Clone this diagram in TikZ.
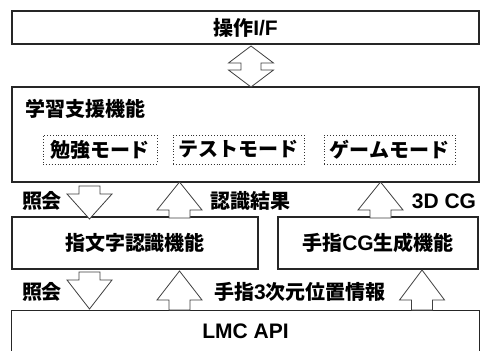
\documentclass[tikz,border=0pt]{standalone}
\usepackage{fontspec}
\setmainfont{Liberation Sans}
\newfontfamily\jpf{Noto Sans CJK JP}
\newcommand{\jp}[1]{{\jpf\fontsize{20}{24}\selectfont #1}}
\newcommand{\blkarr}[4]{\draw[barrow] (#1,#2) -- ({#1+22.5},#3) -- ({#1+10.5},#3) -- ({#1+10.5},#4) -- ({#1-10.5},#4) -- ({#1-10.5},#3) -- ({#1-22.5},#3) -- cycle;}
\tikzset{
  box/.style={draw=black!85, line width=1.3pt, inner sep=0pt, font=\bfseries\fontsize{21}{24}\selectfont},
  boxline/.style={draw=black!85, line width=1.3pt},
  modebox/.style={draw=black!80, dotted, line width=0.9pt, inner sep=0pt, minimum height=29pt, font=\bfseries\fontsize{21}{24}\selectfont},
  barrow/.style={draw=black!75, line width=0.8pt, fill=white, line join=miter},
  lbl/.style={inner sep=0pt, font=\bfseries\fontsize{21}{24}\selectfont}
}
\begin{document}
\begin{tikzpicture}[x=1pt,y=-1pt]
\useasboundingbox (0,0) rectangle (480,351);
\clip (0,0) rectangle (480,351);
\fill[white] (0,0) rectangle (480,351);
% boxes
\node[box, minimum width=467pt, minimum height=33pt] (opif) at (245.5,27.5) {\jp{操作}I/F};
\node[box, minimum width=467pt, minimum height=95pt] (gakushu) at (245.5,134.5) {};
\node[lbl, anchor=west] (gakushulbl) at (25,109) {\jp{学習支援機能}};
\node[modebox, minimum width=114pt] (benkyo) at (100,149.5) {\jp{勉強モード}};
\node[modebox, minimum width=131pt] (test) at (238.5,149.5) {\jp{テストモード}};
\node[modebox, minimum width=131pt] (game) at (389.5,149.5) {\jp{ゲームモード}};
\node[box, minimum width=246pt, minimum height=52pt] (shimoji) at (135,243) {\jp{指文字認識機能}};
\node[box, minimum width=200pt, minimum height=52pt] (cg) at (378,243) {\jp{手指}CG\jp{生成機能}};
\node[box, draw=none, minimum width=467pt, minimum height=40pt] (lmc) at (245.5,331) {LMC API};
\draw[boxline] ([yshift=-20pt]lmc.south west) -- (lmc.north west) -- (lmc.north east) -- ([yshift=-20pt]lmc.south east);
% double arrow
\draw[barrow] (251,46) -- (273.5,63) -- (261,63) -- (261,70) -- (273.5,70) -- (251,87) -- (228.5,70) -- (241,70) -- (241,63) -- (228.5,63) -- cycle;
% arrows between row 2 and 3
\blkarr{89.5}{219}{194}{186}
\blkarr{179.5}{182}{210}{218}
\blkarr{380.5}{182}{210}{218}
% arrows between row 3 and 4
\blkarr{89.5}{309}{280}{272}
\blkarr{179.5}{271}{300}{310}
\blkarr{422}{270}{300}{310}
% labels
\node[lbl] (shokai1) at (42,201) {\jp{照会}};
\node[lbl] (kekka) at (250,201) {\jp{認識結果}};
\node[lbl] (cg3d) at (444,201) {3D CG};
\node[lbl] (shokai2) at (42,292) {\jp{照会}};
\node[lbl] (ichi) at (300,292) {\jp{手指}3\jp{次元位置情報}};
\end{tikzpicture}
\end{document}
